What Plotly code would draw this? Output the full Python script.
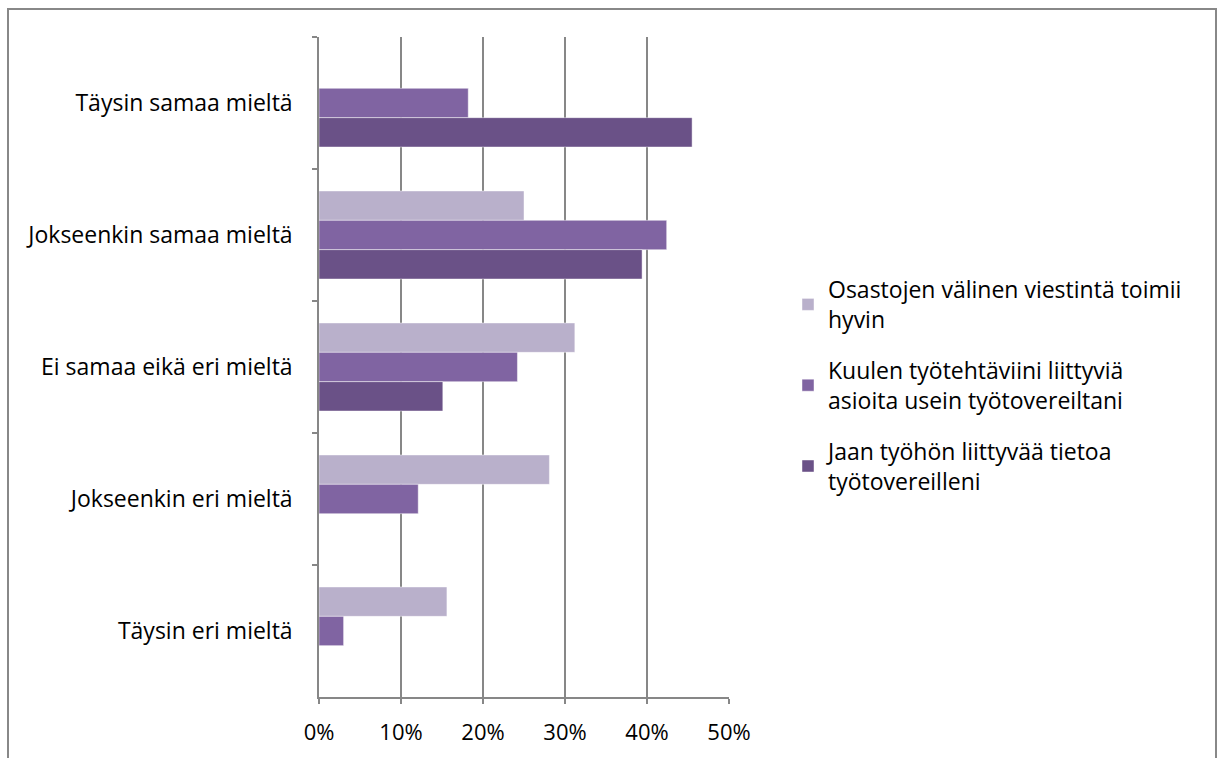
import plotly.graph_objects as go

# Response categories, listed top to bottom
categories = [
    "Täysin samaa mieltä",
    "Jokseenkin samaa mieltä",
    "Ei samaa eikä eri mieltä",
    "Jokseenkin eri mieltä",
    "Täysin eri mieltä",
]

series_names = [
    "Osastojen välinen viestintä toimii<br>hyvin",
    "Kuulen työtehtäviini liittyviä<br>asioita usein työtovereiltani",
    "Jaan työhön liittyvää tietoa<br>työtovereilleni",
]

# Share of respondents (%), one list per statement
osastojen = [None, 25.0, 31.2, 28.1, 15.6]
kuulen = [18.2, 42.4, 24.2, 12.1, 3.0]
jaan = [45.5, 39.4, 15.1, None, None]

tick_vals = [0, 10, 20, 30, 40, 50]
tick_text = ["0%", "10%", "20%", "30%", "40%", "50%"]

colors = ["#B9B0CB", "#8064A2", "#6A5187"]

fig = go.Figure()
for i, (name, vals, col) in enumerate(zip(series_names, [osastojen, kuulen, jaan], colors)):
    fig.add_trace(go.Bar(
        y=categories,
        x=vals,
        name=name,
        legendgroup=f"g{i}",
        orientation="h",
        marker=dict(color=col, line=dict(color="rgba(255,255,255,0.45)", width=1)),
    ))

W, H = 1223, 758
L, R, T, B = 319, 729, 37, 697

FONT = "'Open Sans', sans-serif"
FS = 23

fig.update_layout(
    width=W,
    height=H,
    margin=dict(l=L, r=W - R, t=T, b=H - B, pad=0),
    paper_bgcolor="white",
    plot_bgcolor="white",
    barmode="group",
    bargap=0.333,
    bargroupgap=0,
    font=dict(family=FONT, size=FS, color="#000000"),
    xaxis=dict(
        range=[0, 50],
        tickvals=tick_vals,
        ticktext=tick_text,
        showgrid=True,
        gridcolor="#878787",
        gridwidth=1.5,
        zeroline=False,
        showline=True,
        linecolor="#878787",
        linewidth=1.5,
        ticks="outside",
        ticklen=5,
        tickcolor="#878787",
        tickwidth=1.5,
        tickfont=dict(family=FONT, size=FS - 1),
        ticklabelstandoff=10,
    ),
    yaxis=dict(
        categoryorder="array",
        categoryarray=categories,
        autorange="reversed",
        showgrid=False,
        showline=True,
        linecolor="#878787",
        linewidth=1.5,
        ticks="outside",
        tickson="boundaries",
        ticklen=5,
        tickcolor="#878787",
        tickwidth=1.5,
        tickfont=dict(family=FONT, size=FS),
        ticklabelstandoff=20,
    ),
    legend=dict(
        x=(788 - L) / (R - L),
        y=(B - 268) / (B - T),
        xanchor="left",
        yanchor="top",
        traceorder="grouped",
        font=dict(family=FONT, size=FS),
        tracegroupgap=18,
        itemwidth=30,
        bgcolor="rgba(0,0,0,0)",
    ),
    showlegend=True,
)

# Outer chart frame
fig.add_shape(
    type="rect",
    xref="paper", yref="paper",
    x0=(8 - L) / (R - L), x1=(1216 - L) / (R - L),
    y0=(B - 775) / (B - T), y1=(B - 9) / (B - T),
    line=dict(color="#888888", width=2),
    fillcolor="rgba(0,0,0,0)",
    layer="below",
)

fig.write_html("out.html")
